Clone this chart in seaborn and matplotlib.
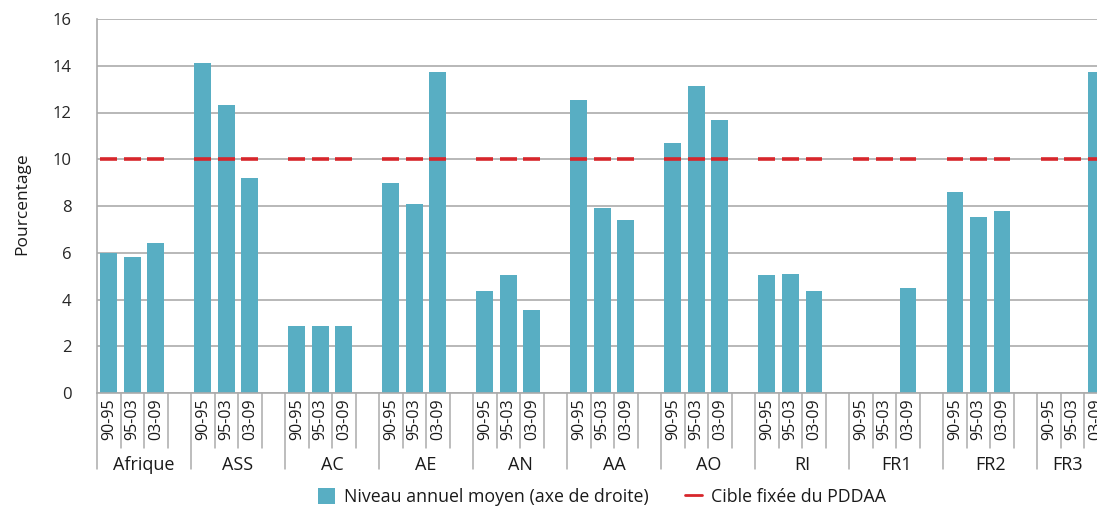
import numpy as np
import pandas as pd
import matplotlib
matplotlib.use("Agg")
import matplotlib.pyplot as plt
import seaborn as sns
from matplotlib.lines import Line2D
from matplotlib.patches import Patch
from matplotlib.transforms import blended_transform_factory

# --- data -------------------------------------------------------------
groupes = ["Afrique", "ASS", "AC", "AE", "AN", "AA", "AO", "RI", "FR1", "FR2", "FR3"]
periodes = ["90-95", "95-03", "03-09"]
niveau_90_95 = [6.0, 14.1, 2.85, 9.0, 4.35, 12.55, 10.7, 5.05, np.nan, 8.6, np.nan]
niveau_95_03 = [5.8, 12.3, 2.85, 8.1, 5.05, 7.9, 13.15, 5.1, np.nan, 7.55, np.nan]
niveau_03_09 = [6.4, 9.2, 2.85, 13.75, 3.55, 7.4, 11.7, 4.35, 4.5, 7.8, 13.75]
cible_pddaa = 10

label_barres = "Niveau annuel moyen (axe de droite)"
label_cible = "Cible fixée du PDDAA"

TEAL = "#58AEC3"
RED = "#D7262B"
GRID = "#ABABAB"

# --- long table: one slot per period, plus a spacer slot per group ------
series = {"90-95": niveau_90_95, "95-03": niveau_95_03, "03-09": niveau_03_09}
rows, slots = [], []
for i, g in enumerate(groupes):
    for p in periodes:
        s = f"{g}|{p}"
        slots.append(s)
        rows.append({"groupe": g, "periode": p, "slot": s, "valeur": series[p][i]})
    slots.append(f"{g}|")
df = pd.DataFrame(rows)

sns.set_theme(style="white")
plt.rcParams["font.family"] = ["Open Sans", "DejaVu Sans"]
plt.rcParams["text.color"] = "#1a1a1a"

fig = plt.figure(figsize=(10.97, 5.08), dpi=100)
ax = fig.add_axes([97 / 1097, 1 - 393 / 508, 1000 / 1097, 374 / 508])

sns.barplot(data=df.dropna(), x="slot", y="valeur", order=slots, color=TEAL,
            saturation=1, width=0.72, errorbar=None, linewidth=0, ax=ax)

# PDDAA target drawn as a short segment above each period slot
pos = [slots.index(s) for s in df["slot"]]
ax.hlines([cible_pddaa] * len(pos), np.array(pos) - 0.36, np.array(pos) + 0.36,
          colors=RED, linewidth=2.6, zorder=4)

x_right = 42.04
ax.set_xlim(-0.5, x_right)
ax.set_ylim(0, 16)
ax.set_yticks(np.arange(0, 17, 2))
ax.yaxis.grid(True, color=GRID, linewidth=1.2)
ax.set_axisbelow(True)
ax.tick_params(axis="y", length=10, width=1.1, color=GRID, pad=8.5, labelsize=12)
ax.tick_params(axis="x", length=0)
ax.set_xticks([])
ax.set_xlabel("")
ax.set_ylabel("")
for side in ["top", "right"]:
    ax.spines[side].set_visible(False)
for side in ["left", "bottom"]:
    ax.spines[side].set_color(GRID)
    ax.spines[side].set_linewidth(1.2)

# two-level category axis
tr = blended_transform_factory(ax.transData, ax.transAxes)
short_d = -55 / 374
long_d = -76 / 374
for k in range(len(slots) + 1):
    x = k - 0.5
    d = long_d if k % 4 == 0 else short_d
    ax.add_line(Line2D([x, x], [0, d], transform=tr, color=GRID, linewidth=1.1,
                       clip_on=False))
for k, s in enumerate(slots):
    g, p = s.split("|")
    if p:
        ax.text(k, -5 / 374, p, transform=tr, rotation=90, ha="center", va="top",
                fontsize=11.5, clip_on=False)
for i, g in enumerate(groupes):
    start = 4 * i - 0.5
    end = min(4 * i + 3.5, x_right)
    ax.text((start + end) / 2, -63 / 374, g, transform=tr, ha="center", va="top",
            fontsize=13, clip_on=False)

fig.text(22 / 1097, 1 - 204 / 508, "Pourcentage", rotation=90, ha="center",
         va="center", fontsize=12.5)

handles = [Patch(facecolor=TEAL, edgecolor="none"),
           Line2D([0], [0], color=RED, linewidth=2, linestyle="-")]
fig.legend(handles, [label_barres, label_cible], loc="center",
           bbox_to_anchor=(602 / 1097, 1 - 497 / 508), ncol=2, frameon=False,
           fontsize=12.8, handlelength=1.0, handleheight=1.0, handletextpad=0.5,
           columnspacing=2.0, borderaxespad=0)

fig.savefig("out.png", dpi=100)
